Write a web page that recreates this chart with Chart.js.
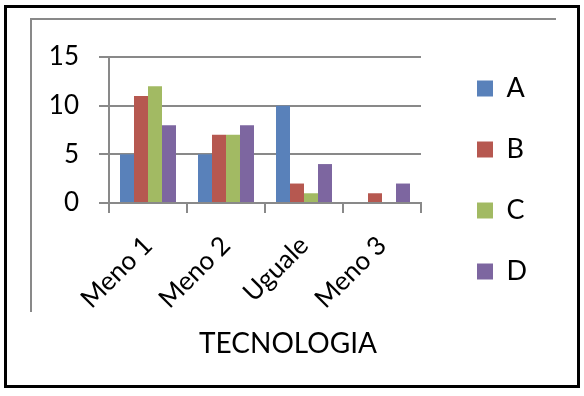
<!DOCTYPE html>
<html><head><meta charset="utf-8">
<script src="https://cdn.jsdelivr.net/npm/chart.js@4/dist/chart.umd.min.js"></script>
<style>html,body{margin:0;padding:0;background:#fff;}#wrap{position:relative;width:584px;height:396px;}</style>
</head><body><div id="wrap"><canvas id="c" width="584" height="396"></canvas></div>
<script>
const categories = ['Meno 1', 'Meno 2', 'Uguale', 'Meno 3'];
const seriesNames = ['A', 'B', 'C', 'D'];
const valuesA = [5, 5, 10, 0];
const valuesB = [11, 7, 2, 1];
const valuesC = [12, 7, 1, 0];
const valuesD = [8, 8, 4, 2];
const yTicks = [0, 5, 10, 15];
const axisTitle = 'TECNOLOGIA';

const seriesColors = ['#5981BA', '#B65850', '#A2BA63', '#7D66A0'];
const FONT = 'Lato, "Open Sans", sans-serif';
const GRID = '#898989';

const framePlugin = {
  id: 'frame',
  beforeLayout(chart) {
    const lg = chart.legend;
    if (lg && !lg._patched) {
      const f = lg.fit;
      lg.fit = function () { f.call(this); this.width = 584 - 421; };
      lg._patched = true;
    }
  },
  afterLayout(chart) {
    const lg = chart.legend;
    const dx = 443 - lg.left;
    lg.left += dx; lg.right += dx;
    lg.top = 4; lg.bottom = 356;
    const tb = chart.titleBlock;
    const h = tb.bottom - tb.top;
    tb.left = 0; tb.right = 576;
    tb.top = 344 - h / 2; tb.bottom = tb.top + h;
  },
  beforeDraw(chart) {
    const ctx = chart.ctx;
    ctx.save();
    ctx.fillStyle = '#fff';
    ctx.fillRect(0, 0, chart.width, chart.height);
    ctx.strokeStyle = '#000';
    ctx.lineWidth = 3;
    ctx.strokeRect(5.5, 6.5, 573, 380);
    ctx.strokeStyle = GRID;
    ctx.lineWidth = 2;
    ctx.beginPath();
    ctx.moveTo(31, 312); ctx.lineTo(31, 19); ctx.lineTo(556, 19);
    ctx.stroke();
    ctx.restore();
  }
};

const seriesValues = [valuesA, valuesB, valuesC, valuesD];
new Chart(document.getElementById('c'), {
  type: 'bar',
  data: {
    labels: categories,
    datasets: seriesNames.map((n, i) => ({
      label: n,
      data: seriesValues[i],
      backgroundColor: seriesColors[i],
      borderWidth: 0,
      categoryPercentage: 0.718,
      barPercentage: 1
    }))
  },
  options: {
    responsive: false,
    devicePixelRatio: 1,
    animation: false,
    layout: { padding: { left: 0, right: 0, top: 57, bottom: 0 } },
    scales: {
      x: {
        grid: { display: true, drawOnChartArea: false, drawTicks: true, tickLength: 10, color: GRID, lineWidth: 2, offset: true },
        border: { display: true, color: GRID, width: 2 },
        ticks: { color: '#000', font: { family: FONT, size: 26 }, minRotation: 45, maxRotation: 45, padding: 17 },
        afterFit(s) { s.height = 396 - 203 - 33.6; }
      },
      y: {
        min: 0, max: 15,
        afterBuildTicks(s) { s.ticks = yTicks.map(v => ({ value: v })); },
        grid: { color: GRID, lineWidth: 2, tickLength: 10 },
        border: { display: true, color: GRID, width: 2 },
        ticks: { color: '#000', font: { family: FONT, size: 26 }, padding: 20 },
        afterFit(s) { s.width = 109; }
      }
    },
    plugins: {
      legend: {
        position: 'right',
        labels: { boxWidth: 16, boxHeight: 16, padding: 34, color: '#000', font: { family: FONT, size: 27 } }
      },
      title: {
        display: true, text: axisTitle, position: 'bottom', padding: 0, color: '#000',
        font: { family: FONT, size: 28, weight: 'normal', lineHeight: 1.2 }
      },
      tooltip: { enabled: false }
    }
  },
  plugins: [framePlugin]
});
</script>
</body></html>
